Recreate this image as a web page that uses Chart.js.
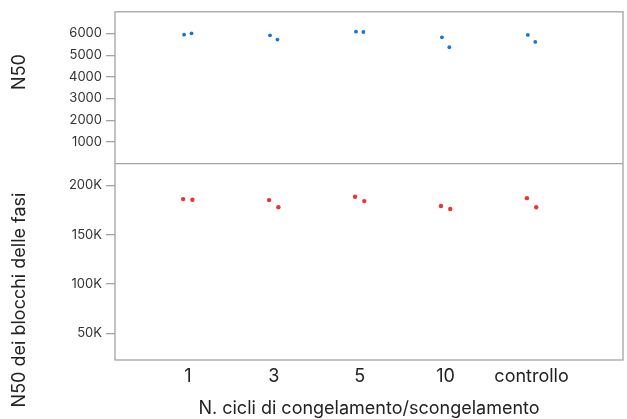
<!DOCTYPE html>
<html>
<head>
    <meta charset="UTF-8">
    <title>N50 per cicli di congelamento/scongelamento</title>
    <script src="https://cdn.jsdelivr.net/npm/chart.js"></script>
    <style>
        body { margin: 0; background: #fff; }
        #wrap { width: 627px; height: 419px; position: relative; }
    </style>
</head>
<body>
    <div id="wrap"><canvas id="n50Chart"></canvas></div>

    <script>
        // categorie (cicli di congelamento/scongelamento)
        var categories = ['1', '3', '5', '10', 'controllo'];

        // N50 (pannello superiore), due repliche per categoria
        var n50RepA = [5945, 5913, 6082, 5822, 5932];
        var n50RepB = [6005, 5717, 6068, 5365, 5612];

        // N50 dei blocchi delle fasi (pannello inferiore)
        var phaseRepA = [186000, 185000, 188400, 179000, 187000];
        var phaseRepB = [185400, 177700, 184000, 176000, 177700];

        // etichette degli assi
        var n50Ticks = [1000, 2000, 3000, 4000, 5000, 6000];
        var phaseTicks = [50000, 100000, 150000, 200000];

        var FONT = 'Inter, "Noto Sans", sans-serif';
        var GRAY = '#a3a3a3';

        // punti affiancati intorno alla categoria
        function points(values, shift) {
            return values.map(function (v, i) {
                return { x: i + shift, y: v };
            });
        }

        // cornice + linea di separazione + titoli dell'asse y
        var framePlugin = {
            id: 'frame',
            afterDraw: function (chart) {
                var ctx = chart.ctx;
                var a = chart.chartArea;
                var yTop = chart.scales.yTop;
                ctx.save();
                ctx.strokeStyle = GRAY;
                ctx.lineWidth = 1.3;
                ctx.strokeRect(a.left, a.top, a.right - a.left, a.bottom - a.top);
                ctx.beginPath();
                ctx.moveTo(a.left, yTop.bottom);
                ctx.lineTo(a.right, yTop.bottom);
                ctx.stroke();

                ctx.fillStyle = '#222';
                ctx.font = '18px ' + FONT;
                ctx.textAlign = 'center';
                ctx.textBaseline = 'middle';
                [['N50', 72], ['N50 dei blocchi delle fasi', 300]].forEach(function (t) {
                    ctx.save();
                    ctx.translate(20, t[1]);
                    ctx.rotate(-Math.PI / 2);
                    ctx.fillText(t[0], 0, 0);
                    ctx.restore();
                });
                ctx.restore();
            }
        };

        var yCommon = {
            position: 'left',
            stack: 'panels',
            grid: { drawOnChartArea: false, drawTicks: true, tickLength: 9, color: GRAY, lineWidth: 1.3 },
            border: { display: false },
            ticks: { color: '#333', font: { family: FONT, size: 13 }, padding: 4, autoSkip: false },
            afterFit: function (scale) { scale.width = 115; }
        };

        var ctx = document.getElementById('n50Chart').getContext('2d');
        var n50Chart = new Chart(ctx, {
            type: 'scatter',
            data: {
                datasets: [
                    { data: points(n50RepA, -0.043), yAxisID: 'yTop', backgroundColor: '#1278d4', borderWidth: 0, pointRadius: 1.9 },
                    { data: points(n50RepB, 0.043), yAxisID: 'yTop', backgroundColor: '#1278d4', borderWidth: 0, pointRadius: 1.9 },
                    { data: points(phaseRepA, -0.054), yAxisID: 'yBot', backgroundColor: '#ee3333', borderWidth: 0, pointRadius: 2.2 },
                    { data: points(phaseRepB, 0.054), yAxisID: 'yBot', backgroundColor: '#ee3333', borderWidth: 0, pointRadius: 2.2 }
                ]
            },
            options: {
                responsive: true,
                maintainAspectRatio: false,
                animation: false,
                layout: { padding: { top: 9, right: 1, bottom: 0, left: 0 } },
                plugins: { legend: { display: false }, tooltip: { enabled: false } },
                scales: {
                    x: {
                        type: 'linear',
                        min: -0.847,
                        max: 5.064,
                        grid: { display: false },
                        border: { display: false },
                        afterBuildTicks: function (scale) {
                            scale.ticks = categories.map(function (c, i) { return { value: i }; });
                        },
                        ticks: {
                            color: '#222',
                            font: { family: FONT, size: 18 },
                            padding: -2,
                            autoSkip: false,
                            maxRotation: 0,
                            callback: function (v) { return categories[v]; }
                        },
                        title: {
                            display: true,
                            text: 'N. cicli di congelamento/scongelamento',
                            color: '#222',
                            font: { family: FONT, size: 18 },
                            padding: { top: 8, bottom: 0 }
                        },
                        afterFit: function (scale) { scale.height = 59; }
                    },
                    yBot: Object.assign({}, yCommon, {
                        type: 'linear',
                        min: 23000,
                        max: 222000,
                        stackWeight: 198,
                        afterBuildTicks: function (scale) {
                            scale.ticks = phaseTicks.map(function (v) { return { value: v }; });
                        },
                        ticks: Object.assign({}, yCommon.ticks, {
                            callback: function (v) { return (v / 1000) + 'K'; }
                        })
                    }),
                    yTop: Object.assign({}, yCommon, {
                        type: 'linear',
                        min: 0,
                        max: 7000,
                        stackWeight: 153,
                        afterBuildTicks: function (scale) {
                            scale.ticks = n50Ticks.map(function (v) { return { value: v }; });
                        },
                        ticks: Object.assign({}, yCommon.ticks, {
                            callback: function (v) { return String(v); }
                        })
                    })
                }
            },
            plugins: [framePlugin]
        });
    </script>
</body>
</html>
